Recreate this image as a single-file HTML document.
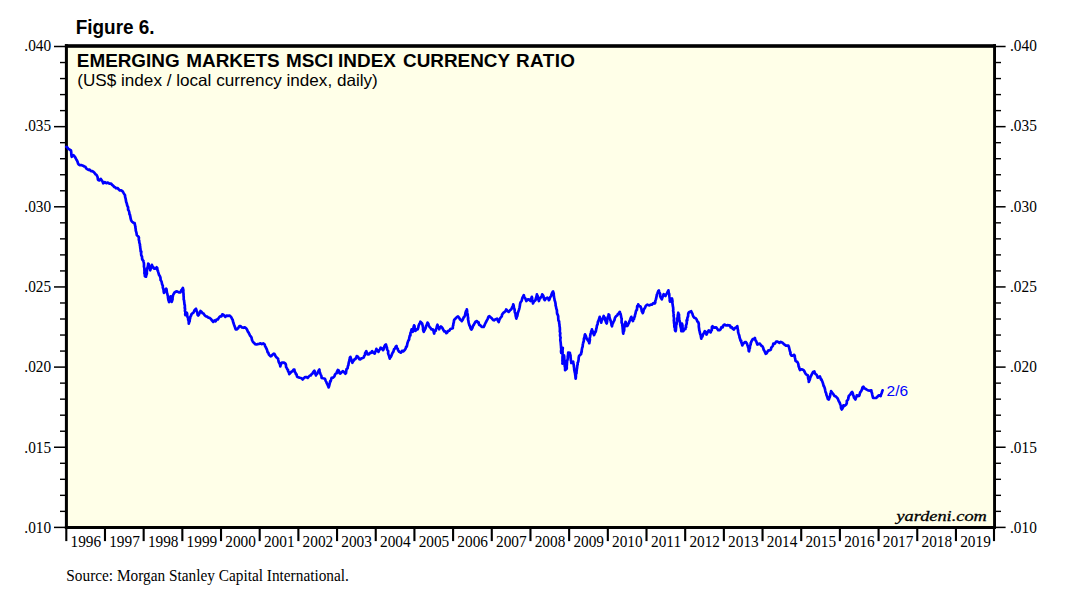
<!DOCTYPE html><html><head><meta charset="utf-8"><title>Figure 6</title>
<style>html,body{margin:0;padding:0;background:#fff;}svg{display:block;}text{font-family:"Liberation Serif",serif;fill:#000;}.s{font-family:"Liberation Sans",sans-serif;}</style></head><body>
<svg width="1074" height="605" viewBox="0 0 1074 605">
<rect x="0" y="0" width="1074" height="605" fill="#fff"/>
<rect x="66.5" y="46.0" width="928.0" height="481.25" fill="#ffffe8"/>
<rect x="64.9" y="44.2" width="931.1" height="3.6" fill="#000"/>
<rect x="64.9" y="526" width="931.1" height="3.0" fill="#000"/>
<rect x="64.9" y="44.2" width="3.0" height="484.8" fill="#000"/>
<rect x="993.1" y="44.2" width="2.9" height="484.8" fill="#000"/>
<polyline points="66.4,146.8 67.4,147.4 68.4,148.9 69.7,149.6 70.9,150.4 71.1,151.2 71.3,152.8 71.3,154.4 71.7,156.8 73.4,155.1 74.4,156.2 75.0,157.0 76.2,159.2 76.8,160.2 77.5,161.6 78.1,163.6 78.9,164.6 79.8,165.2 81.1,165.0 83.0,165.7 84.3,166.5 85.4,166.8 86.3,168.5 87.2,169.1 88.5,169.9 89.6,169.6 91.0,171.2 92.3,171.1 93.5,171.9 94.4,172.8 95.6,174.4 96.5,174.9 97.0,175.8 97.7,177.6 97.9,179.4 98.5,180.3 99.4,180.5 100.7,178.9 101.7,180.2 102.4,181.2 103.2,183.3 104.8,182.2 106.3,183.2 107.8,182.5 109.4,183.7 111.1,183.6 112.1,184.9 113.1,185.6 114.3,187.0 115.2,187.3 116.1,188.3 117.5,188.0 118.9,189.6 119.8,190.4 121.2,190.3 122.1,191.1 122.8,191.5 123.5,192.9 124.5,194.5 125.0,195.2 125.1,196.9 125.7,198.9 125.8,199.8 126.2,202.1 126.8,203.6 127.2,205.4 127.4,205.9 128.1,207.4 128.1,209.8 128.7,210.4 128.9,211.1 129.3,212.4 129.5,214.3 129.9,214.6 130.3,216.5 130.7,218.8 130.9,219.3 131.2,220.5 132.1,221.7 133.6,222.9 134.6,223.0 135.0,225.0 135.0,225.5 135.4,226.3 135.4,227.6 135.7,229.2 135.8,230.8 136.1,231.5 136.5,233.0 136.8,235.1 138.5,236.8 138.9,237.4 138.8,239.9 139.2,240.6 139.3,242.3 140.0,244.6 139.9,245.3 140.2,246.8 140.2,247.5 140.5,249.3 140.7,251.6 141.3,251.5 141.1,253.9 141.3,255.3 142.0,256.7 142.1,258.7 142.2,259.4 143.5,261.1 143.6,262.0 143.9,263.2 144.0,265.3 143.9,266.3 144.4,268.5 144.4,270.0 144.5,271.3 144.5,271.6 144.4,273.2 144.7,274.0 144.9,276.2 146.0,276.7 146.3,275.0 146.4,274.9 146.9,273.6 146.8,272.3 147.0,269.6 147.2,268.3 147.7,267.8 147.7,266.8 148.1,265.2 148.2,263.6 148.7,264.2 149.1,267.0 149.4,268.1 149.9,268.4 150.2,270.3 150.8,268.6 151.0,268.4 151.7,266.0 151.9,264.8 152.4,266.5 153.1,266.7 153.9,268.6 155.4,268.7 156.6,267.3 157.2,268.0 157.6,270.8 158.0,271.0 158.2,272.0 159.0,274.8 159.4,275.3 160.1,276.7 160.5,278.0 160.6,280.1 161.0,280.5 161.6,281.8 162.0,283.7 162.2,284.6 162.8,285.7 162.8,287.4 163.3,289.1 163.6,290.1 163.7,291.6 164.0,292.9 164.5,291.5 165.2,290.0 166.1,288.7 166.5,289.1 166.7,290.8 167.0,293.1 167.3,293.7 167.7,295.5 167.9,296.0 168.0,297.6 168.4,299.9 168.8,300.9 169.0,302.1 169.4,301.4 169.9,299.4 170.4,297.8 170.7,296.3 171.0,297.6 171.4,299.0 171.6,300.8 171.7,301.8 171.9,301.2 172.6,299.0 172.5,298.1 173.0,295.4 173.3,294.6 174.4,292.7 175.9,291.6 177.0,291.3 178.9,292.4 180.4,292.4 181.3,290.3 181.9,289.7 182.9,287.9 183.3,290.0 183.4,290.2 183.3,291.9 183.6,294.4 183.5,294.3 183.6,296.3 183.7,297.2 183.7,299.5 184.1,300.5 184.2,301.9 184.3,302.3 184.5,304.7 184.8,305.1 184.9,307.7 184.7,307.8 185.1,309.0 184.9,310.8 185.4,312.4 185.2,314.4 185.4,315.2 186.3,313.3 186.8,312.7 187.2,314.2 187.1,314.7 187.5,317.1 188.0,317.4 188.2,319.8 188.5,320.1 188.7,321.5 188.8,323.6 189.1,322.3 189.7,321.2 189.7,319.4 190.1,318.6 190.4,316.6 190.9,316.0 191.6,314.0 192.5,313.3 193.3,312.9 194.1,311.2 194.9,309.7 196.0,308.8 196.2,309.7 196.9,311.9 197.3,312.3 197.6,314.9 198.2,315.5 198.9,314.6 199.9,312.5 200.5,311.0 201.5,311.8 202.7,313.3 203.6,313.6 204.4,314.9 205.8,316.2 207.1,316.6 208.5,317.7 209.5,317.9 211.0,319.0 211.9,320.4 213.2,321.9 214.5,320.5 215.6,321.3 216.5,319.6 217.8,319.4 218.7,318.0 219.6,316.8 220.7,316.0 221.4,316.3 222.3,314.4 223.5,314.8 224.2,315.7 225.3,316.9 226.6,315.5 228.1,315.9 229.5,315.5 230.4,316.3 231.2,317.2 232.3,319.4 232.7,319.9 232.9,321.1 233.4,322.8 234.0,324.6 234.5,326.1 235.0,327.3 235.2,328.0 235.7,329.4 236.7,329.4 238.1,328.2 239.4,326.1 240.4,326.1 241.9,327.4 243.5,327.8 244.8,327.3 246.3,328.6 247.1,329.8 247.8,331.5 248.5,332.3 249.0,333.6 249.6,334.5 249.9,335.3 250.7,336.3 251.5,337.5 251.9,339.6 252.5,341.0 253.0,342.0 253.9,342.8 255.3,344.2 256.3,344.5 257.7,344.1 258.9,344.0 260.5,343.3 261.8,344.1 263.2,343.3 264.7,344.5 265.1,346.2 266.0,347.5 266.2,348.3 266.9,349.5 267.4,351.3 267.6,352.3 268.3,352.7 268.9,354.6 270.6,356.3 271.5,355.9 272.4,354.7 273.6,353.7 274.4,353.9 275.5,356.0 276.2,357.1 277.2,357.8 278.1,358.8 278.3,360.0 278.7,362.0 279.4,363.4 279.5,362.9 280.2,365.6 280.3,366.3 280.7,364.9 281.6,363.2 281.9,362.5 283.6,362.5 285.3,363.5 285.8,364.2 286.1,367.0 286.8,368.1 287.4,369.5 288.0,369.7 288.1,371.5 288.8,372.0 289.3,374.2 290.2,373.2 291.3,371.8 292.5,371.2 293.5,369.7 294.4,369.7 294.7,371.5 295.6,372.9 295.9,374.1 296.5,374.3 297.1,376.7 297.6,377.0 298.8,377.4 299.9,377.8 301.5,378.2 302.6,379.5 304.1,377.9 305.1,377.0 306.3,377.0 307.7,377.9 308.5,376.9 309.8,375.6 310.7,375.5 311.7,374.0 312.5,373.6 313.2,372.1 314.4,370.7 314.9,372.7 315.5,374.3 316.0,375.4 316.5,373.8 317.2,373.8 318.0,371.8 318.8,370.3 319.4,369.5 319.6,371.8 320.0,372.6 320.4,373.8 320.7,374.5 321.4,376.0 321.6,377.9 323.1,378.3 324.9,378.7 325.7,380.7 325.8,381.1 326.3,381.9 326.8,383.4 327.4,384.4 328.3,386.3 328.6,387.4 329.0,386.5 329.5,384.5 329.8,383.1 330.2,381.2 330.6,381.5 331.2,379.3 331.6,377.9 332.9,377.7 334.5,376.2 335.0,374.5 335.8,373.5 336.7,373.3 336.9,371.9 337.8,370.0 338.7,370.4 339.5,373.2 340.3,373.7 341.3,372.6 342.8,371.2 344.3,372.3 345.4,373.7 346.0,373.0 346.1,372.0 346.5,369.2 347.2,368.7 347.6,368.2 347.9,366.1 348.4,365.1 348.6,363.4 349.1,361.3 349.5,360.4 349.6,359.8 349.9,357.5 350.4,356.9 351.0,358.6 351.2,359.2 351.9,361.4 352.4,362.8 353.0,361.5 353.6,360.7 354.6,359.1 355.4,359.2 356.1,357.9 356.8,356.1 357.9,356.7 359.3,359.1 360.4,359.4 361.3,358.4 362.8,358.0 363.8,357.3 364.2,355.9 365.0,355.1 365.1,353.1 365.8,352.0 366.3,351.1 367.0,353.1 368.0,354.4 369.2,354.1 370.0,352.8 371.1,352.8 372.2,351.1 373.3,352.9 374.7,353.6 375.4,351.5 376.1,350.1 376.4,348.9 377.3,350.4 378.5,351.9 379.2,350.0 380.1,349.4 380.6,347.7 381.8,348.3 383.1,350.2 384.0,348.2 384.3,346.7 385.1,345.1 385.9,344.4 386.5,346.6 387.0,347.7 387.1,349.5 387.6,350.2 388.2,351.0 388.1,353.4 388.6,354.7 389.0,355.6 389.2,356.6 389.8,358.6 390.3,357.0 390.7,357.1 391.3,355.9 392.2,353.6 392.6,352.7 393.3,351.9 394.1,349.2 395.1,348.5 395.7,346.8 396.5,346.0 396.8,348.1 397.7,348.6 398.1,350.2 399.3,351.9 401.0,352.7 402.0,350.8 403.2,351.4 404.7,350.0 405.7,348.5 406.1,346.8 406.8,346.6 407.3,343.9 407.6,342.6 408.3,340.7 408.7,340.2 409.1,339.6 409.2,338.3 409.8,335.6 410.4,335.6 410.4,333.2 410.9,331.9 411.1,331.4 411.6,329.3 412.3,331.1 412.7,331.8 413.1,331.1 413.2,329.4 413.5,327.6 413.6,327.2 414.1,325.4 414.6,326.2 414.5,327.7 415.1,328.7 415.4,330.9 416.6,329.5 417.6,329.4 418.3,327.6 418.6,325.7 419.3,323.9 419.8,323.6 420.4,321.7 422.1,323.4 422.3,324.3 422.8,326.4 423.1,328.0 423.0,329.3 423.4,331.0 423.8,331.8 424.4,330.5 425.0,329.4 425.8,327.6 426.1,325.9 426.8,324.5 427.0,324.0 427.5,322.6 428.4,323.8 428.7,325.4 429.5,326.8 430.7,328.2 431.5,329.4 432.8,329.3 433.4,330.7 433.9,332.7 434.2,333.5 434.6,331.4 435.0,330.3 435.7,330.6 436.0,329.2 436.5,327.9 437.2,325.5 437.5,324.7 437.9,327.0 438.7,327.9 439.2,329.3 440.0,327.3 440.9,326.4 441.6,327.0 442.6,328.4 443.4,330.1 444.3,331.4 445.3,331.3 446.4,333.2 447.2,332.5 448.3,330.8 449.4,330.6 450.4,329.0 452.8,328.2 452.9,326.0 453.3,325.2 453.3,324.2 453.9,321.9 453.9,321.0 454.3,319.7 455.8,318.3 456.8,317.2 458.0,316.5 458.9,317.4 460.1,319.5 460.7,319.7 461.8,321.1 462.5,320.1 463.7,317.4 464.3,316.9 464.9,315.5 465.3,314.2 465.4,313.1 466.0,311.0 466.6,310.9 466.8,309.4 467.0,310.1 467.2,312.0 467.3,313.0 467.8,315.0 467.7,315.7 468.2,318.3 467.9,318.7 468.5,321.4 468.5,322.0 468.8,323.2 469.4,325.3 470.1,326.5 470.3,327.6 470.9,328.8 471.5,329.5 472.3,328.1 472.5,327.7 473.2,325.5 473.8,324.8 474.4,323.6 475.5,321.7 476.9,321.1 477.9,322.6 478.6,322.4 479.1,324.7 480.2,325.3 481.7,326.8 483.6,327.0 484.3,325.8 484.8,324.5 485.6,322.8 486.3,321.5 486.9,320.3 487.7,318.8 488.6,316.6 489.4,316.1 490.6,317.3 492.0,318.6 493.1,319.9 494.0,320.3 495.3,319.4 497.0,318.6 497.7,320.3 498.7,322.0 499.3,320.1 499.8,318.9 500.2,318.4 500.8,317.4 501.8,316.4 502.0,314.8 502.8,313.6 503.6,312.6 504.3,312.3 505.6,311.1 506.2,309.4 507.6,311.1 508.7,311.9 510.2,310.1 511.2,309.4 511.9,308.1 512.0,307.6 512.9,306.2 513.2,304.4 513.6,305.3 514.0,308.2 514.6,309.4 514.7,311.4 514.9,312.6 515.5,313.3 515.5,314.1 515.7,316.0 515.9,316.5 516.3,318.6 516.9,316.6 517.3,316.1 517.7,313.8 518.0,312.3 518.3,311.8 518.8,310.2 519.1,309.4 519.6,307.3 520.0,305.0 520.0,304.4 520.4,302.7 520.8,302.0 521.6,301.0 522.2,298.6 522.5,297.5 523.0,296.8 523.8,295.1 524.3,297.2 525.3,298.3 525.8,299.7 526.3,301.0 528.0,299.3 529.0,299.8 530.5,301.0 530.8,298.8 531.3,298.4 531.8,296.8 532.2,298.2 532.1,298.8 532.3,301.1 532.7,301.3 533.0,303.5 533.8,301.7 534.7,300.8 535.5,300.2 535.7,298.9 536.2,297.5 536.8,295.1 536.9,294.3 537.1,295.2 537.8,296.3 538.2,299.0 538.4,299.5 538.9,301.0 539.6,298.8 540.1,298.4 540.9,297.2 541.7,296.4 542.2,294.3 543.0,295.3 543.5,296.4 543.9,298.6 544.7,300.2 546.1,298.2 547.3,297.7 548.1,298.1 548.9,300.2 549.3,299.7 550.2,297.1 550.8,296.4 551.1,295.7 551.8,293.6 552.7,291.8 553.1,291.4 553.4,293.2 553.7,293.1 553.8,295.8 554.0,297.1 554.1,297.5 554.5,299.3 554.6,300.3 555.2,301.9 555.6,304.0 555.6,305.5 556.0,306.6 556.3,308.5 556.6,309.4 556.9,310.3 557.0,312.8 557.2,314.0 557.5,314.2 558.2,316.3 558.2,317.2 558.3,319.1 558.5,320.8 559.1,321.1 559.2,323.3 559.5,324.8 559.5,326.0 559.8,327.3 559.9,329.1 559.9,330.0 559.8,331.6 560.1,332.4 560.3,333.5 560.0,335.0 560.3,337.0 560.6,337.6 560.3,339.4 560.3,340.1 560.7,342.6 560.8,344.0 560.8,344.2 561.0,346.0 561.1,348.2 561.2,348.1 561.3,351.0 561.0,350.9 561.2,352.9 561.4,350.9 562.2,351.0 562.6,349.3 562.8,347.8 562.7,349.4 562.5,349.7 562.6,352.2 562.6,352.8 562.5,353.6 562.7,355.4 562.5,356.8 562.5,359.2 562.6,360.4 562.4,360.2 562.6,362.3 562.4,363.7 562.8,362.0 562.8,361.0 563.0,360.2 563.3,358.7 563.6,355.9 564.0,355.4 564.3,357.2 564.2,357.2 564.4,359.4 564.4,360.2 564.7,361.9 564.8,363.0 564.6,364.4 564.8,366.5 565.0,366.8 565.1,368.1 565.1,370.2 566.5,369.0 566.8,368.0 566.7,366.5 566.9,364.7 566.9,364.2 567.0,362.8 567.2,360.2 567.5,360.1 567.8,357.8 567.8,356.1 568.0,355.3 568.1,354.3 568.2,352.5 569.9,352.9 570.0,354.1 570.5,355.2 570.6,357.5 570.7,358.1 570.9,360.6 571.1,360.9 571.3,363.0 573.2,361.7 573.3,363.7 573.5,363.7 573.9,366.0 573.8,366.3 574.1,367.7 574.2,369.5 574.4,370.5 574.9,373.0 575.2,372.7 575.1,374.0 575.5,376.9 575.5,377.7 575.7,378.6 575.9,376.7 575.9,375.3 575.9,374.5 576.5,373.2 576.5,372.4 576.6,371.0 576.9,368.8 577.1,367.9 577.1,367.5 577.3,365.5 577.7,364.3 577.6,362.7 578.2,361.9 578.4,360.7 578.6,359.5 578.7,357.8 579.0,356.2 580.1,354.8 581.1,354.1 581.3,352.1 581.7,352.0 581.7,350.4 582.0,348.7 582.2,347.8 582.7,346.5 582.8,344.3 583.0,343.6 583.2,342.8 583.8,341.0 583.9,338.8 584.3,337.7 584.4,337.8 584.8,335.0 585.0,334.4 585.7,335.7 586.2,337.0 586.7,338.8 587.2,339.5 588.1,340.6 588.7,341.4 589.3,343.2 589.6,341.6 589.9,339.7 589.6,338.7 590.0,337.1 590.2,336.1 590.5,333.9 591.0,333.3 591.1,331.8 591.7,330.2 591.9,329.4 592.5,331.6 593.2,331.7 593.4,333.5 594.1,335.1 595.0,332.8 595.6,331.9 595.9,331.1 596.2,329.2 596.7,327.4 596.8,326.3 597.0,325.2 597.6,324.4 597.8,322.3 598.2,321.1 598.7,320.2 599.1,318.8 599.7,316.8 600.0,318.1 600.3,319.6 600.9,320.3 601.2,322.7 601.6,321.0 602.2,319.7 602.8,318.6 603.1,317.6 603.7,316.0 604.4,318.0 604.9,317.7 605.3,320.5 605.9,320.4 606.0,322.5 606.7,323.5 607.2,321.3 607.1,321.2 607.3,318.8 607.9,317.8 607.9,316.7 608.5,316.3 608.6,314.3 609.2,315.0 609.5,317.2 609.9,318.6 610.3,320.2 610.6,320.4 611.0,322.4 611.4,323.5 611.5,325.1 612.0,326.3 612.3,324.5 612.7,323.7 613.2,322.4 613.9,321.1 614.5,319.9 615.0,317.7 615.3,317.3 616.2,316.1 617.3,315.4 618.0,313.8 618.7,313.7 619.8,311.8 620.2,313.5 620.6,313.9 621.1,316.6 621.3,317.7 621.7,318.7 621.6,320.4 621.6,322.4 622.0,323.4 622.3,324.0 622.3,325.4 622.6,327.0 622.6,327.8 622.8,329.5 622.9,331.5 623.1,332.9 623.3,333.6 623.4,332.3 624.0,331.0 624.2,329.9 624.2,328.1 624.6,326.7 624.9,326.0 625.1,323.6 625.3,323.8 625.5,321.8 625.9,322.4 626.4,323.7 627.1,326.0 627.8,325.4 628.4,323.7 629.0,322.8 629.6,321.0 630.1,319.8 630.6,318.4 631.3,316.8 631.8,318.5 632.2,320.1 633.0,321.0 633.2,319.2 634.0,319.0 634.2,317.5 634.8,316.6 635.0,314.9 635.5,313.5 635.8,311.8 636.2,310.5 636.9,309.8 637.1,307.4 637.2,306.1 637.9,306.2 638.2,304.3 639.2,306.1 640.3,306.4 640.7,306.9 641.5,309.2 641.8,311.3 642.1,311.6 642.8,313.1 643.2,312.1 643.7,309.9 644.5,308.4 645.2,307.4 645.7,306.0 646.1,305.5 647.4,304.6 649.0,305.4 650.6,304.7 651.8,304.7 653.5,303.1 654.8,303.5 655.3,302.4 655.3,301.0 655.9,299.4 656.3,297.6 656.7,295.8 656.8,294.8 657.3,293.7 658.3,291.0 658.9,290.4 659.0,292.4 659.7,292.9 660.2,294.1 660.1,296.1 660.7,297.6 661.8,299.3 662.3,297.8 662.8,296.6 663.4,294.8 663.7,294.2 665.5,296.0 666.3,294.3 666.9,293.4 667.8,291.5 668.4,290.3 668.7,292.5 668.7,293.3 669.2,293.8 669.4,296.4 669.5,297.1 669.8,299.7 669.7,300.5 670.0,301.7 671.2,299.9 672.0,298.4 672.2,299.5 672.5,301.3 672.3,303.0 672.4,302.9 672.7,305.0 673.0,307.1 673.1,307.0 673.3,309.8 673.1,310.7 673.4,311.9 673.6,313.9 673.8,315.0 673.5,315.7 673.9,317.5 674.0,318.2 673.8,320.9 674.1,321.7 674.0,322.8 674.3,323.8 674.3,326.2 674.4,327.0 674.9,327.7 675.0,330.3 675.5,331.2 675.9,330.0 675.9,329.3 676.1,327.2 676.1,325.4 676.6,324.1 676.7,323.1 676.9,322.0 677.1,320.5 677.1,318.7 677.4,318.9 677.8,316.0 677.7,315.9 678.0,314.2 678.3,312.7 678.3,314.1 679.0,314.5 679.0,317.3 679.1,318.1 679.4,319.8 679.8,321.5 679.9,322.0 680.3,323.9 680.1,324.2 680.3,325.4 680.5,326.5 681.1,328.7 681.3,329.8 681.3,331.2 681.2,330.4 681.5,328.3 681.9,326.0 681.9,324.7 682.0,323.6 682.5,325.4 682.5,326.9 682.6,328.1 683.3,330.5 683.3,331.2 684.1,329.6 685.4,329.0 685.6,327.3 686.1,327.1 685.9,325.7 686.5,324.3 686.8,322.8 686.6,320.4 687.3,320.4 687.3,318.6 687.5,317.6 688.1,316.2 688.2,314.0 688.5,313.0 689.0,312.2 691.2,311.2 691.7,312.5 692.3,313.4 692.9,315.5 693.6,316.9 694.4,317.8 695.5,318.0 696.5,319.3 697.4,321.5 698.1,321.9 698.3,322.6 698.8,323.9 698.8,326.6 698.9,327.3 699.2,329.3 699.3,330.4 699.7,331.5 699.8,332.4 700.4,334.7 700.8,335.1 700.9,336.8 701.3,338.6 701.8,336.7 702.4,336.7 703.0,334.3 703.8,333.3 704.5,331.7 704.8,331.2 705.8,332.1 706.5,334.5 707.1,333.4 707.9,331.7 708.8,330.3 709.6,330.9 710.6,332.4 711.3,330.6 711.8,330.2 711.9,327.1 712.5,326.3 714.1,327.6 716.2,327.4 717.2,328.7 718.2,330.1 719.6,330.1 720.5,329.5 721.4,327.2 722.7,327.3 723.6,325.1 724.7,324.5 726.0,325.5 727.3,325.2 728.9,325.3 730.0,325.6 730.7,327.4 731.7,327.1 732.9,328.9 733.9,329.5 734.9,328.0 736.3,327.4 737.3,326.1 737.6,328.1 737.6,328.4 738.1,330.7 738.1,332.1 738.6,333.7 738.9,334.5 739.5,336.5 739.5,337.2 740.2,339.3 740.5,340.6 741.2,340.7 741.3,342.4 741.9,343.8 742.3,345.4 743.1,343.4 744.0,343.1 744.8,342.1 746.0,342.2 747.0,343.7 747.5,345.5 747.8,345.9 748.1,347.3 748.5,348.0 748.7,350.9 749.0,351.3 749.3,350.1 749.4,348.8 749.8,348.4 750.1,345.7 750.7,344.5 750.7,342.9 751.0,342.8 751.5,341.2 752.7,339.2 753.8,339.1 754.9,337.9 755.2,339.6 756.0,341.2 756.2,341.1 756.9,343.2 757.4,344.6 758.5,343.8 759.9,343.7 760.5,344.6 761.7,346.0 762.4,346.2 763.2,347.9 763.7,349.8 764.7,351.4 765.0,352.1 765.7,353.8 766.6,353.3 767.7,351.3 768.3,350.4 769.5,350.5 770.8,349.6 771.3,347.7 772.3,346.5 772.9,345.7 773.3,343.7 774.9,343.6 776.1,341.6 777.5,341.7 779.4,342.9 780.8,341.9 782.5,342.7 783.6,343.9 784.6,344.7 785.9,345.6 788.4,345.6 788.8,346.7 789.0,347.3 789.7,350.2 790.0,351.4 790.5,352.5 790.4,353.9 790.9,354.7 791.4,355.7 792.7,355.6 794.2,354.8 794.8,356.1 794.8,357.5 795.2,358.6 795.5,360.7 795.9,361.1 797.4,362.0 797.9,363.0 798.3,364.0 798.7,366.8 799.1,366.9 799.4,368.7 800.0,370.0 801.6,369.3 803.5,370.0 804.3,371.1 805.0,372.6 806.0,374.4 807.7,375.2 807.9,375.8 808.2,378.5 808.4,379.3 808.7,380.0 808.8,381.9 809.3,380.6 809.8,379.6 810.2,377.8 810.8,376.4 811.3,375.4 811.8,374.4 813.0,372.1 814.4,371.5 814.9,373.4 815.7,374.1 816.6,374.8 817.2,376.1 817.7,377.7 819.9,376.5 820.2,377.1 821.0,379.6 821.5,379.4 822.3,381.4 822.7,382.7 823.0,383.3 823.7,386.1 823.9,385.9 824.5,387.5 825.0,389.2 825.2,390.3 825.6,392.2 826.2,393.4 826.4,394.8 827.0,396.2 827.3,397.0 827.9,399.0 828.9,399.5 829.0,398.8 829.7,397.2 830.2,395.3 830.3,394.0 830.9,393.0 831.1,391.1 831.9,392.4 832.7,393.3 833.6,394.5 834.5,396.0 835.7,396.4 836.7,397.4 837.8,398.7 838.6,400.7 839.0,401.6 839.6,402.5 840.3,404.5 840.8,405.5 841.0,408.0 841.7,409.5 842.2,408.9 843.0,407.4 843.4,405.4 844.7,405.8 846.2,404.5 846.8,403.0 846.8,400.8 847.4,400.4 848.0,399.7 848.5,397.6 848.7,396.1 849.6,395.1 850.3,394.4 851.3,392.8 852.1,392.0 852.8,393.2 853.1,395.2 853.5,395.6 854.1,397.8 855.4,399.5 855.9,397.9 856.5,396.8 856.8,395.3 858.8,396.1 859.3,395.6 859.9,393.3 860.4,392.0 861.0,391.5 862.0,389.4 862.5,387.4 863.3,386.6 864.5,388.4 865.1,388.5 866.3,389.4 868.1,390.4 869.9,390.6 871.3,390.3 871.6,392.5 871.9,392.7 872.3,394.8 872.5,395.7 873.0,397.8 874.8,398.0 876.4,397.8 877.9,396.3 878.9,395.3 880.6,396.1 880.9,394.9 881.7,393.0 882.2,391.4 882.6,390.3" fill="none" stroke="#0000ff" stroke-width="2.7" stroke-linejoin="round" stroke-linecap="round"/>
<rect x="54" y="45.75" width="12" height="1.5" fill="#000"/>
<rect x="995" y="45.75" width="10.6" height="1.5" fill="#000"/>
<text transform="translate(51.10,50.85) scale(0.94,1)" font-size="16.3" text-anchor="end" >.040</text>
<text transform="translate(1010.00,50.85) scale(0.94,1)" font-size="16.3" text-anchor="start" >.040</text>
<rect x="60" y="61.83" width="6" height="1.4" fill="#000"/>
<rect x="995" y="61.83" width="6" height="1.4" fill="#000"/>
<rect x="60" y="77.86" width="6" height="1.4" fill="#000"/>
<rect x="995" y="77.86" width="6" height="1.4" fill="#000"/>
<rect x="60" y="93.89" width="6" height="1.4" fill="#000"/>
<rect x="995" y="93.89" width="6" height="1.4" fill="#000"/>
<rect x="60" y="109.92" width="6" height="1.4" fill="#000"/>
<rect x="995" y="109.92" width="6" height="1.4" fill="#000"/>
<rect x="54" y="125.90" width="12" height="1.5" fill="#000"/>
<rect x="995" y="125.90" width="10.6" height="1.5" fill="#000"/>
<text transform="translate(51.10,131.18) scale(0.94,1)" font-size="16.3" text-anchor="end" >.035</text>
<text transform="translate(1010.00,131.18) scale(0.94,1)" font-size="16.3" text-anchor="start" >.035</text>
<rect x="60" y="141.98" width="6" height="1.4" fill="#000"/>
<rect x="995" y="141.98" width="6" height="1.4" fill="#000"/>
<rect x="60" y="158.01" width="6" height="1.4" fill="#000"/>
<rect x="995" y="158.01" width="6" height="1.4" fill="#000"/>
<rect x="60" y="174.04" width="6" height="1.4" fill="#000"/>
<rect x="995" y="174.04" width="6" height="1.4" fill="#000"/>
<rect x="60" y="190.07" width="6" height="1.4" fill="#000"/>
<rect x="995" y="190.07" width="6" height="1.4" fill="#000"/>
<rect x="54" y="206.05" width="12" height="1.5" fill="#000"/>
<rect x="995" y="206.05" width="10.6" height="1.5" fill="#000"/>
<text transform="translate(51.10,211.51) scale(0.94,1)" font-size="16.3" text-anchor="end" >.030</text>
<text transform="translate(1010.00,211.51) scale(0.94,1)" font-size="16.3" text-anchor="start" >.030</text>
<rect x="60" y="222.13" width="6" height="1.4" fill="#000"/>
<rect x="995" y="222.13" width="6" height="1.4" fill="#000"/>
<rect x="60" y="238.16" width="6" height="1.4" fill="#000"/>
<rect x="995" y="238.16" width="6" height="1.4" fill="#000"/>
<rect x="60" y="254.19" width="6" height="1.4" fill="#000"/>
<rect x="995" y="254.19" width="6" height="1.4" fill="#000"/>
<rect x="60" y="270.22" width="6" height="1.4" fill="#000"/>
<rect x="995" y="270.22" width="6" height="1.4" fill="#000"/>
<rect x="54" y="286.20" width="12" height="1.5" fill="#000"/>
<rect x="995" y="286.20" width="10.6" height="1.5" fill="#000"/>
<text transform="translate(51.10,291.84) scale(0.94,1)" font-size="16.3" text-anchor="end" >.025</text>
<text transform="translate(1010.00,291.84) scale(0.94,1)" font-size="16.3" text-anchor="start" >.025</text>
<rect x="60" y="302.28" width="6" height="1.4" fill="#000"/>
<rect x="995" y="302.28" width="6" height="1.4" fill="#000"/>
<rect x="60" y="318.31" width="6" height="1.4" fill="#000"/>
<rect x="995" y="318.31" width="6" height="1.4" fill="#000"/>
<rect x="60" y="334.34" width="6" height="1.4" fill="#000"/>
<rect x="995" y="334.34" width="6" height="1.4" fill="#000"/>
<rect x="60" y="350.37" width="6" height="1.4" fill="#000"/>
<rect x="995" y="350.37" width="6" height="1.4" fill="#000"/>
<rect x="54" y="366.35" width="12" height="1.5" fill="#000"/>
<rect x="995" y="366.35" width="10.6" height="1.5" fill="#000"/>
<text transform="translate(51.10,372.17) scale(0.94,1)" font-size="16.3" text-anchor="end" >.020</text>
<text transform="translate(1010.00,372.17) scale(0.94,1)" font-size="16.3" text-anchor="start" >.020</text>
<rect x="60" y="382.43" width="6" height="1.4" fill="#000"/>
<rect x="995" y="382.43" width="6" height="1.4" fill="#000"/>
<rect x="60" y="398.46" width="6" height="1.4" fill="#000"/>
<rect x="995" y="398.46" width="6" height="1.4" fill="#000"/>
<rect x="60" y="414.49" width="6" height="1.4" fill="#000"/>
<rect x="995" y="414.49" width="6" height="1.4" fill="#000"/>
<rect x="60" y="430.52" width="6" height="1.4" fill="#000"/>
<rect x="995" y="430.52" width="6" height="1.4" fill="#000"/>
<rect x="54" y="446.50" width="12" height="1.5" fill="#000"/>
<rect x="995" y="446.50" width="10.6" height="1.5" fill="#000"/>
<text transform="translate(51.10,452.50) scale(0.94,1)" font-size="16.3" text-anchor="end" >.015</text>
<text transform="translate(1010.00,452.50) scale(0.94,1)" font-size="16.3" text-anchor="start" >.015</text>
<rect x="60" y="462.58" width="6" height="1.4" fill="#000"/>
<rect x="995" y="462.58" width="6" height="1.4" fill="#000"/>
<rect x="60" y="478.61" width="6" height="1.4" fill="#000"/>
<rect x="995" y="478.61" width="6" height="1.4" fill="#000"/>
<rect x="60" y="494.64" width="6" height="1.4" fill="#000"/>
<rect x="995" y="494.64" width="6" height="1.4" fill="#000"/>
<rect x="60" y="510.67" width="6" height="1.4" fill="#000"/>
<rect x="995" y="510.67" width="6" height="1.4" fill="#000"/>
<rect x="54" y="526.65" width="12" height="1.5" fill="#000"/>
<rect x="995" y="526.65" width="10.6" height="1.5" fill="#000"/>
<text transform="translate(51.10,532.83) scale(0.94,1)" font-size="16.3" text-anchor="end" >.010</text>
<text transform="translate(1010.00,532.83) scale(0.94,1)" font-size="16.3" text-anchor="start" >.010</text>
<rect x="65.25" y="527" width="2.1" height="14.1" fill="#000"/>
<text transform="translate(85.84,546.70) scale(0.94,1)" font-size="16.3" text-anchor="middle" >1996</text>
<rect x="103.93" y="527" width="2.1" height="14.1" fill="#000"/>
<text transform="translate(124.52,546.70) scale(0.94,1)" font-size="16.3" text-anchor="middle" >1997</text>
<rect x="142.61" y="527" width="2.1" height="14.1" fill="#000"/>
<text transform="translate(163.20,546.70) scale(0.94,1)" font-size="16.3" text-anchor="middle" >1998</text>
<rect x="181.29" y="527" width="2.1" height="14.1" fill="#000"/>
<text transform="translate(201.88,546.70) scale(0.94,1)" font-size="16.3" text-anchor="middle" >1999</text>
<rect x="219.97" y="527" width="2.1" height="14.1" fill="#000"/>
<text transform="translate(240.56,546.70) scale(0.94,1)" font-size="16.3" text-anchor="middle" >2000</text>
<rect x="258.65" y="527" width="2.1" height="14.1" fill="#000"/>
<text transform="translate(279.24,546.70) scale(0.94,1)" font-size="16.3" text-anchor="middle" >2001</text>
<rect x="297.33" y="527" width="2.1" height="14.1" fill="#000"/>
<text transform="translate(317.92,546.70) scale(0.94,1)" font-size="16.3" text-anchor="middle" >2002</text>
<rect x="336.01" y="527" width="2.1" height="14.1" fill="#000"/>
<text transform="translate(356.60,546.70) scale(0.94,1)" font-size="16.3" text-anchor="middle" >2003</text>
<rect x="374.69" y="527" width="2.1" height="14.1" fill="#000"/>
<text transform="translate(395.28,546.70) scale(0.94,1)" font-size="16.3" text-anchor="middle" >2004</text>
<rect x="413.37" y="527" width="2.1" height="14.1" fill="#000"/>
<text transform="translate(433.96,546.70) scale(0.94,1)" font-size="16.3" text-anchor="middle" >2005</text>
<rect x="452.05" y="527" width="2.1" height="14.1" fill="#000"/>
<text transform="translate(472.64,546.70) scale(0.94,1)" font-size="16.3" text-anchor="middle" >2006</text>
<rect x="490.73" y="527" width="2.1" height="14.1" fill="#000"/>
<text transform="translate(511.32,546.70) scale(0.94,1)" font-size="16.3" text-anchor="middle" >2007</text>
<rect x="529.41" y="527" width="2.1" height="14.1" fill="#000"/>
<text transform="translate(550.00,546.70) scale(0.94,1)" font-size="16.3" text-anchor="middle" >2008</text>
<rect x="568.09" y="527" width="2.1" height="14.1" fill="#000"/>
<text transform="translate(588.68,546.70) scale(0.94,1)" font-size="16.3" text-anchor="middle" >2009</text>
<rect x="606.77" y="527" width="2.1" height="14.1" fill="#000"/>
<text transform="translate(627.36,546.70) scale(0.94,1)" font-size="16.3" text-anchor="middle" >2010</text>
<rect x="645.45" y="527" width="2.1" height="14.1" fill="#000"/>
<text transform="translate(666.04,546.70) scale(0.94,1)" font-size="16.3" text-anchor="middle" >2011</text>
<rect x="684.13" y="527" width="2.1" height="14.1" fill="#000"/>
<text transform="translate(704.72,546.70) scale(0.94,1)" font-size="16.3" text-anchor="middle" >2012</text>
<rect x="722.81" y="527" width="2.1" height="14.1" fill="#000"/>
<text transform="translate(743.40,546.70) scale(0.94,1)" font-size="16.3" text-anchor="middle" >2013</text>
<rect x="761.49" y="527" width="2.1" height="14.1" fill="#000"/>
<text transform="translate(782.08,546.70) scale(0.94,1)" font-size="16.3" text-anchor="middle" >2014</text>
<rect x="800.17" y="527" width="2.1" height="14.1" fill="#000"/>
<text transform="translate(820.76,546.70) scale(0.94,1)" font-size="16.3" text-anchor="middle" >2015</text>
<rect x="838.85" y="527" width="2.1" height="14.1" fill="#000"/>
<text transform="translate(859.44,546.70) scale(0.94,1)" font-size="16.3" text-anchor="middle" >2016</text>
<rect x="877.53" y="527" width="2.1" height="14.1" fill="#000"/>
<text transform="translate(898.12,546.70) scale(0.94,1)" font-size="16.3" text-anchor="middle" >2017</text>
<rect x="916.21" y="527" width="2.1" height="14.1" fill="#000"/>
<text transform="translate(936.80,546.70) scale(0.94,1)" font-size="16.3" text-anchor="middle" >2018</text>
<rect x="954.89" y="527" width="2.1" height="14.1" fill="#000"/>
<text transform="translate(975.48,546.70) scale(0.94,1)" font-size="16.3" text-anchor="middle" >2019</text>
<rect x="992.95" y="527" width="2.1" height="14.1" fill="#000"/>
<text class="s" transform="translate(75.7,33.75) scale(0.952,1)" font-size="19.9" font-weight="bold">Figure 6.</text>
<text class="s" x="76.80" y="66.6" font-size="18.9" font-weight="bold">EMERGING</text>
<text class="s" x="186.25" y="66.6" font-size="18.9" font-weight="bold">MARKETS</text>
<text class="s" x="286.00" y="66.6" font-size="18.9" font-weight="bold">MSCI</text>
<text class="s" x="338.10" y="66.6" font-size="18.9" font-weight="bold">INDEX</text>
<text class="s" x="403.00" y="66.6" font-size="18.9" font-weight="bold">CURRENCY</text>
<text class="s" x="515.90" y="66.6" font-size="18.9" font-weight="bold" letter-spacing="0.45">RATIO</text>
<text class="s" x="77.3" y="85.6" font-size="17.13">(US$ index / local currency index, daily)</text>
<text class="s" x="886.6" y="395.6" font-size="14.4" textLength="21.6" lengthAdjust="spacingAndGlyphs" style="fill:#0000ff">2/6</text>
<text x="896.4" y="521.3" font-size="14.9" font-style="italic" textLength="90.4" lengthAdjust="spacingAndGlyphs" stroke="#000" stroke-width="0.3">yardeni.com</text>
<text transform="translate(66.30,580.50) scale(0.958,1)" font-size="16.0" text-anchor="start" >Source: Morgan Stanley Capital International.</text>
</svg></body></html>
